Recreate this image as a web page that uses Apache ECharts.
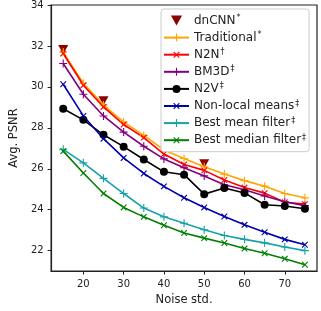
<!DOCTYPE html>
<html><head><meta charset="utf-8">
<script src="https://cdn.jsdelivr.net/npm/echarts@6/dist/echarts.min.js"></script>
<style>html,body{margin:0;padding:0;background:#fff}#c{width:321px;height:311px}</style>
</head><body><div id="c"></div>
<script>
const noise = [15,20,25,30,35,40,45,50,55,60,65,70,75];
const dnCNN = [[15,31.82],[25,29.32],[50,26.24]];
const traditional = [31.70,30.18,29.12,28.28,27.63,26.92,26.50,26.10,25.74,25.42,25.15,24.79,24.58];
const n2n = [31.63,30.08,29.02,28.16,27.52,26.72,26.21,25.92,25.45,25.08,24.81,24.36,24.27];
const bm3d = [31.14,29.64,28.58,27.79,27.10,26.48,26.05,25.65,25.22,24.97,24.67,24.39,24.20];
const n2v = [28.93,28.39,27.66,27.08,26.45,25.85,25.71,24.76,25.06,24.82,24.24,24.18,24.05];
const nlm = [30.13,28.58,27.47,26.53,25.77,25.14,24.58,24.11,23.67,23.26,22.90,22.55,22.29];
const meanF = [26.95,26.29,25.53,24.79,24.08,23.65,23.34,23.02,22.74,22.55,22.38,22.18,22.00];
const medianF = [26.86,25.79,24.79,24.11,23.65,23.24,22.86,22.61,22.37,22.10,21.87,21.60,21.31];
const xTicks = [20,30,40,50,60,70];
const yTicks = [22,24,26,28,30,32,34];
const names = ['dnCNN','Traditional','N2N','BM3D','N2V','Non-local means','Best mean filter','Best median filter'];
const sups = ['*','*','†','‡','‡','‡','‡','‡'];

const PLUS = 'path://M4.3,0H5.7V4.3H10V5.7H5.7V10H4.3V5.7H0V4.3H4.3Z';
const TRI_DOWN = 'path://M0,0L10,0L5,9Z';
function pairs(arr){ return noise.map((x,i)=>[x,arr[i]]); }
function lineSeries(name, data, color, symbol, size, rot){
  return {name, type:'line', data:pairs(data), symbol, symbolSize:size, symbolRotate:rot||0,
    lineStyle:{color, width:1.6}, itemStyle:{color, opacity:1}, showSymbol:true, animation:false, emphasis:{disabled:true}};
}
const chart = echarts.init(document.getElementById('c'), null, {renderer:'canvas'});
chart.setOption({
  animation:false,
  grid:{left:34.5, right:4, top:4, bottom:32, show:true, borderColor:'#222', borderWidth:1.2},
  xAxis:{type:'value', min:12, max:78,
    axisLine:{show:true, lineStyle:{color:'#222', width:1.2}},
    axisTick:{show:true, customValues:xTicks, length:3.5, lineStyle:{color:'#222'}},
    axisLabel:{customValues:xTicks, color:'#222', fontSize:10, fontFamily:'DejaVu Sans', margin:8},
    splitLine:{show:false},
    name:'Noise std.', nameLocation:'middle', nameGap:21,
    nameTextStyle:{color:'#222', fontSize:11.5, fontFamily:'DejaVu Sans', verticalAlign:'top'}},
  yAxis:{type:'value', min:21, max:34,
    axisLine:{show:true, lineStyle:{color:'#222', width:1.2}},
    axisTick:{show:true, customValues:yTicks, length:3.5, lineStyle:{color:'#222'}},
    axisLabel:{customValues:yTicks, color:'#222', fontSize:10, fontFamily:'DejaVu Sans', margin:7.5},
    splitLine:{show:false},
    name:'Avg. PSNR', nameLocation:'middle', nameGap:28.5,
    nameTextStyle:{color:'#222', fontSize:11.5, fontFamily:'DejaVu Sans'}},
  legend:{orient:'vertical', left:161, top:9, itemWidth:25, itemHeight:10, itemGap:4.1,
    padding:[5,3,5,2], backgroundColor:'#fff', borderColor:'#ccc', borderWidth:1, borderRadius:3,
    data:names,
    formatter:function(n){ const i=names.indexOf(n); return '{t|'+n+'}{s|'+sups[i]+'}'; },
    textStyle:{color:'#222', fontFamily:'DejaVu Sans', fontSize:12, lineHeight:13,
      rich:{t:{fontSize:12, fontFamily:'DejaVu Sans', color:'#222', lineHeight:13},
            s:{fontSize:8, fontFamily:'DejaVu Sans', color:'#222', lineHeight:13, verticalAlign:'top', padding:[0,0,5,1]}}}},
  series:[
    {name:'dnCNN', type:'scatter', data:dnCNN, symbol:TRI_DOWN, symbolSize:[10,9],
      itemStyle:{color:'#8b0000', opacity:1}, animation:false, emphasis:{disabled:true}},
    lineSeries('Traditional', traditional, '#ffa500', PLUS, 8),
    lineSeries('N2N', n2n, '#ff0000', PLUS, 8, 45),
    lineSeries('BM3D', bm3d, '#800080', PLUS, 8),
    lineSeries('N2V', n2v, '#000000', 'circle', 8),
    lineSeries('Non-local means', nlm, '#0000aa', PLUS, 8, 45),
    lineSeries('Best mean filter', meanF, '#17a2a8', PLUS, 8),
    lineSeries('Best median filter', medianF, '#008000', PLUS, 8, 45)
  ]
});
</script></body></html>
